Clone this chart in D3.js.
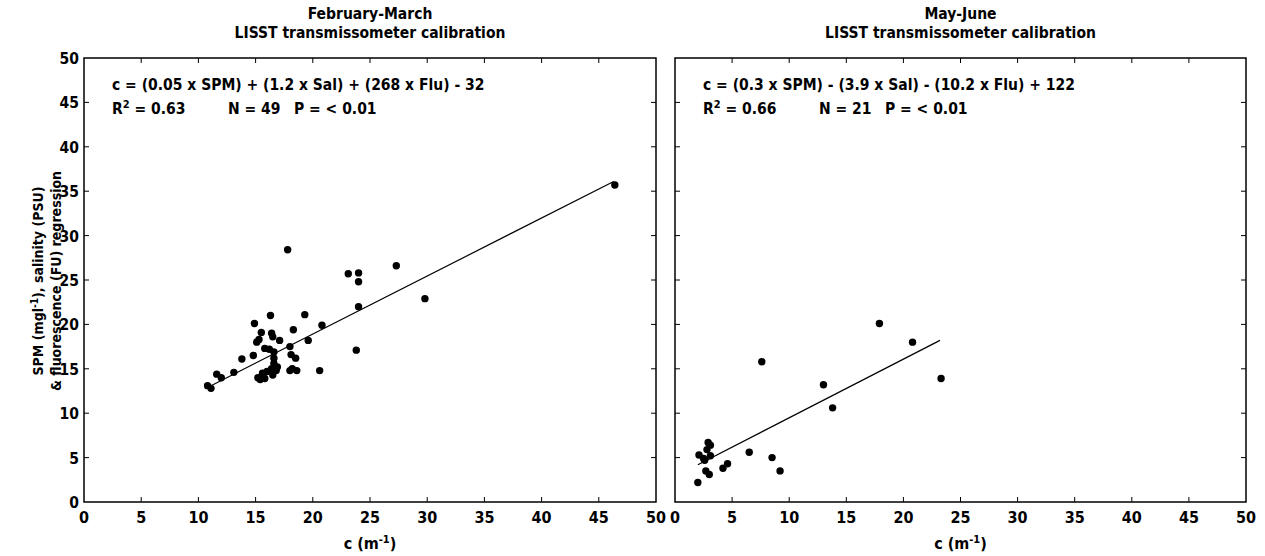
<html>
  <head>
    <meta charset="utf-8">
    <script src="https://d3js.org/d3.v7.min.js"></script>
    <style>
      body {
        margin: 0;
        background: white;
        font-family: "Liberation Sans Narrow", "DejaVu Sans Condensed", "Liberation Sans", sans-serif;
      }
      text {
        font-weight: bold;
        fill: black;
      }
    </style>
  </head>
  <body>
    <div id="chart"></div>
  </body>

  <script>
    // panel titles
    const titles = [
      ["February-March", "LISST transmissometer calibration"],
      ["May-June", "LISST transmissometer calibration"]
    ];

    // February-March points (c, fitted)
    const febX = [10.8, 11.1, 11.6, 12.0, 13.1, 13.8, 14.8, 14.9, 15.1, 15.3,
                  15.5, 15.2, 15.4, 15.6, 15.8, 16.0, 16.3, 16.4, 16.5, 16.6,
                  16.4, 16.6, 16.5, 16.8, 16.9, 16.6, 17.1, 17.8, 18.0, 18.1,
                  18.3, 18.2, 18.5, 18.6, 18.0, 19.3, 19.6, 20.6, 20.8, 23.1,
                  24.0, 24.0, 24.0, 23.8, 27.3, 29.8, 46.4, 15.8, 16.2];
    const febY = [13.1, 12.8, 14.4, 14.0, 14.6, 16.1, 16.5, 20.1, 18.0, 18.3,
                  19.1, 14.0, 13.8, 14.5, 17.3, 14.7, 21.0, 19.0, 18.6, 16.2,
                  15.0, 15.6, 14.3, 14.8, 15.2, 16.9, 18.2, 28.4, 17.5, 16.6,
                  19.4, 15.0, 16.2, 14.8, 14.8, 21.1, 18.2, 14.8, 19.9, 25.7,
                  25.8, 24.8, 22.0, 17.1, 26.6, 22.9, 35.7, 13.9, 17.2];
    const febLineX = [10.8, 46.3];
    const febLineY = [12.9, 36.1];

    // May-June points
    const mayX = [2.0, 2.1, 2.5, 2.7, 2.8, 2.9, 3.1, 3.0, 3.1, 4.2, 4.6,
                  6.5, 7.6, 8.5, 9.2, 13.0, 13.8, 17.9, 20.8, 23.3, 2.6];
    const mayY = [2.2, 5.3, 4.9, 3.5, 5.9, 6.7, 6.4, 3.1, 5.2, 3.8, 4.3,
                  5.6, 15.8, 5.0, 3.5, 13.2, 10.6, 20.1, 18.0, 13.9, 4.7];
    const mayLineX = [2.0, 23.2];
    const mayLineY = [4.2, 18.2];

    const eqns = [
      "c = (0.05 x SPM) + (1.2 x Sal) + (268 x Flu) - 32",
      "c = (0.3 x SPM) - (3.9 x Sal) - (10.2 x Flu) + 122"
    ];
    const r2 = ["0.63", "0.66"];
    const nVals = ["49", "21"];
    const pVals = ["< 0.01", "< 0.01"];

    const xTicks = [0, 5, 10, 15, 20, 25, 30, 35, 40, 45, 50];
    const yTicks = [0, 5, 10, 15, 20, 25, 30, 35, 40, 45, 50];

    const W = 1265, H = 556;
    const svg = d3.select("#chart").append("svg")
      .attr("width", W).attr("height", H);

    const panels = [
      {left: 84, right: 656, xs: febX, ys: febY, lx: febLineX, ly: febLineY, yLabels: true},
      {left: 675, right: 1246, xs: mayX, ys: mayY, lx: mayLineX, ly: mayLineY, yLabels: false}
    ];
    const plotTop = 58, plotBottom = 502;

    panels.forEach(function(p, i) {
      const x = d3.scaleLinear().domain([0, 50]).range([p.left, p.right]);
      const y = d3.scaleLinear().domain([0, 50]).range([plotBottom, plotTop]);
      const g = svg.append("g");

      // ticks inward on all four sides
      const tl = 5;
      g.selectAll(".xt").data(xTicks.slice(1, -1)).join("line")
        .attr("x1", d => x(d)).attr("x2", d => x(d))
        .attr("y1", plotBottom).attr("y2", plotBottom - tl)
        .attr("stroke", "black");
      g.selectAll(".xtt").data(xTicks.slice(1, -1)).join("line")
        .attr("x1", d => x(d)).attr("x2", d => x(d))
        .attr("y1", plotTop).attr("y2", plotTop + tl)
        .attr("stroke", "black");
      g.selectAll(".yt").data(yTicks.slice(1, -1)).join("line")
        .attr("x1", p.left).attr("x2", p.left + tl)
        .attr("y1", d => y(d)).attr("y2", d => y(d))
        .attr("stroke", "black");
      g.selectAll(".ytr").data(yTicks.slice(1, -1)).join("line")
        .attr("x1", p.right).attr("x2", p.right - tl)
        .attr("y1", d => y(d)).attr("y2", d => y(d))
        .attr("stroke", "black");

      g.append("rect")
        .attr("x", p.left).attr("y", plotTop)
        .attr("width", p.right - p.left).attr("height", plotBottom - plotTop)
        .attr("fill", "none").attr("stroke", "black").attr("stroke-width", 1.5);

      // tick labels
      g.selectAll(".xl").data(xTicks).join("text")
        .attr("x", d => x(d)).attr("y", plotBottom + 21)
        .attr("text-anchor", "middle")
        .style("font-size", "16px")
        .text(d => d);
      if (p.yLabels) {
        g.selectAll(".yl").data(yTicks).join("text")
          .attr("x", p.left - 5).attr("y", d => y(d) + 6)
          .attr("text-anchor", "end")
          .style("font-size", "15.5px")
          .text(d => d);
      }

      // titles
      const cx = (p.left + p.right) / 2;
      g.append("text").attr("x", cx).attr("y", 19)
        .attr("text-anchor", "middle").style("font-size", "15.5px").text(titles[i][0]);
      g.append("text").attr("x", cx).attr("y", 38)
        .attr("text-anchor", "middle").style("font-size", "15.5px").text(titles[i][1]);

      const xt = g.append("text").attr("x", cx).attr("y", 549)
        .attr("text-anchor", "middle").style("font-size", "16px");
      xt.append("tspan").text("c (m");
      xt.append("tspan").attr("dy", -6).style("font-size", "11px").text("-1");
      xt.append("tspan").attr("dy", 6).text(")");

      // annotation
      const ax = p.left + 28;
      g.append("text").attr("x", ax).attr("y", 90)
        .style("font-size", "15.5px").text(eqns[i]);
      const r = g.append("text").attr("x", ax).attr("y", 114).style("font-size", "15.5px");
      r.append("tspan").text("R");
      r.append("tspan").attr("dy", -6).style("font-size", "11px").text("2");
      r.append("tspan").attr("dy", 6).text(" = " + r2[i]);
      g.append("text").attr("x", ax + 116).attr("y", 114)
        .style("font-size", "15.5px").text("N = " + nVals[i]);
      g.append("text").attr("x", ax + 182).attr("y", 114)
        .style("font-size", "15.5px").text("P = " + pVals[i]);

      // regression line
      g.append("line")
        .attr("x1", x(p.lx[0])).attr("y1", y(p.ly[0]))
        .attr("x2", x(p.lx[1])).attr("y2", y(p.ly[1]))
        .attr("stroke", "black").attr("stroke-width", 1.2);

      // points
      g.selectAll("circle").data(p.xs).join("circle")
        .attr("cx", d => x(d))
        .attr("cy", (d, j) => y(p.ys[j]))
        .attr("r", 3.7)
        .attr("fill", "black");
    });

    // y axis title
    const yt = svg.append("text")
      .attr("transform", "translate(43,281) rotate(-90)")
      .attr("text-anchor", "middle").style("font-size", "14px");
    yt.append("tspan").text("SPM (mgl");
    yt.append("tspan").attr("dy", -5).style("font-size", "10px").text("-1");
    yt.append("tspan").attr("dy", 5).text("), salinity (PSU)");
    svg.append("text")
      .attr("transform", "translate(61,281) rotate(-90)")
      .attr("text-anchor", "middle").style("font-size", "14px")
      .text("& fluorescence (FU) regression");
  </script>
</html>
